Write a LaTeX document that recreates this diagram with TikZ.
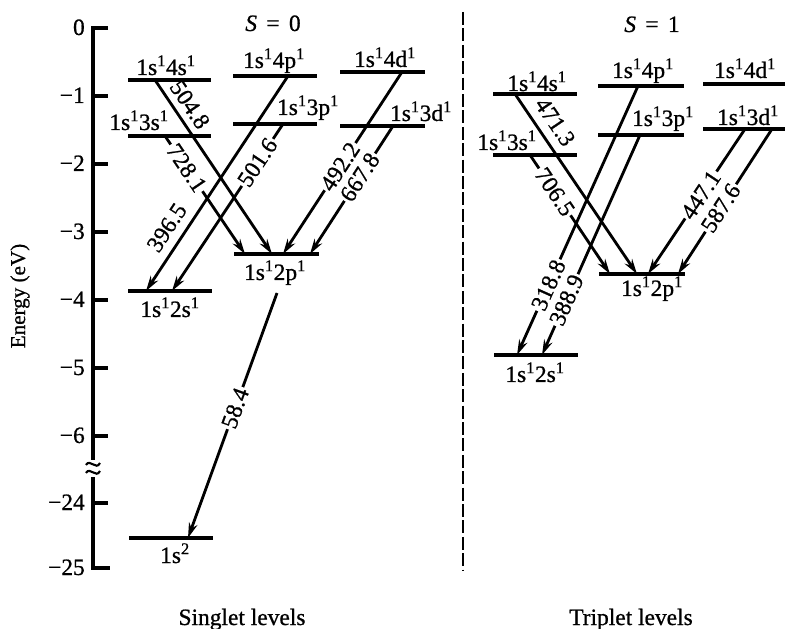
\documentclass[tikz,border=0pt]{standalone}
\usepackage{fontspec}
\setmainfont{Liberation Serif}[FakeBold=0.8]
\usetikzlibrary{arrows.meta}
\begin{document}
\begin{tikzpicture}[x=0.03cm,y=-0.03cm,
  txt/.style={font=\fontsize{20}{24}\selectfont, inner sep=0pt},
  lvlab/.style={txt, anchor=base},
  level/.style={line width=3pt},
  axisline/.style={line width=2.6pt},
  tickline/.style={line width=2.6pt},
  ticklab/.style={txt, anchor=base east},
  arr/.style={line width=2.4pt, -{Stealth[length=13pt,width=7.5pt]}},
  inl/.style={txt, sloped, fill=white, inner sep=1.5pt},
  side/.style={txt, sloped, inner sep=1pt},
  divider/.style={line width=1.7pt, dash pattern=on 11pt off 3pt}
]
\useasboundingbox (0,0) rectangle (785,629);

% ---------- axis ----------
\draw[axisline] (108,28) coordinate (axtop) -- (93,28) -- (93,460) coordinate (axbrk1);
\draw[axisline] (93,477) coordinate (axbrk2) -- (93,568) -- (110,568) coordinate (axbot);
\draw[line width=1.8pt] (86,465) .. controls (90,458) and (96,471) .. (100,463);
\draw[line width=1.8pt] (86,473) .. controls (90,466) and (96,479) .. (100,471);
\foreach \yy/\lab/\nm in {28/0/t0, 96/−1/t1, 164/−2/t2, 232/−3/t3, 300/−4/t4, 368/−5/t5, 436/−6/t6, 503/−24/t24, 568/−25/t25}{
  \draw[tickline] (93,\yy) -- (108,\yy);
  \node[ticklab] (\nm) at (85,\yy+7) {\lab};
}
\node[txt, rotate=90, font=\fontsize{18}{22}\selectfont] (elab) at (20,296) {Energy (eV)};

% ---------- divider ----------
\draw[divider] (463,12) coordinate (dtop) -- (463,570) coordinate (dbot);

% ---------- titles ----------
\node[lvlab] (S0) at (273,31) {\textit{S}\hspace{0.4em}=\hspace{0.4em}0};
\node[lvlab] (S1) at (652,32) {\textit{S}\hspace{0.4em}=\hspace{0.4em}1};
\node[lvlab] (sing) at (242,625) {Singlet levels};
\node[lvlab] (trip) at (631,625) {Triplet levels};

% ---------- singlet levels ----------
\draw[level] (128,80) -- (211,80);
\draw[level] (128,136) -- (211,136);
\draw[level] (128,291) -- (212,291);
\draw[level] (233,76) -- (317,76);
\draw[level] (233,124) -- (317,124);
\draw[level] (234,254) -- (319,254);
\draw[level] (340,72) -- (425,72);
\draw[level] (340,126) -- (425,126);
\draw[level] (129,538) -- (213,538);

\node[lvlab] (Ls4s) at (166,75) {1s\textsuperscript{1}4s\textsuperscript{1}};
\node[lvlab] (Ls3s) at (139,130) {1s\textsuperscript{1}3s\textsuperscript{1}};
\node[lvlab] (Ls2s) at (170,317) {1s\textsuperscript{1}2s\textsuperscript{1}};
\node[lvlab] (Ls4p) at (274,68) {1s\textsuperscript{1}4p\textsuperscript{1}};
\node[lvlab] (Ls3p) at (308,115) {1s\textsuperscript{1}3p\textsuperscript{1}};
\node[lvlab] (Ls2p) at (275,280) {1s\textsuperscript{1}2p\textsuperscript{1}};
\node[lvlab] (Ls4d) at (385,67) {1s\textsuperscript{1}4d\textsuperscript{1}};
\node[lvlab] (Ls3d) at (421,121) {1s\textsuperscript{1}3d\textsuperscript{1}};
\node[lvlab] (Lg) at (175,563) {1s\textsuperscript{2}};

% ---------- triplet levels ----------
\draw[level] (493,94) -- (577,94);
\draw[level] (493,155) -- (577,155);
\draw[level] (598,86) -- (684,86);
\draw[level] (598,135) -- (684,135);
\draw[level] (703,84) -- (785,84);
\draw[level] (703,129) -- (785,129);
\draw[level] (599,274) -- (685,274);
\draw[level] (494,355) -- (578,355);

\node[lvlab] (Lt4s) at (537,91) {1s\textsuperscript{1}4s\textsuperscript{1}};
\node[lvlab] (Lt3s) at (507,150) {1s\textsuperscript{1}3s\textsuperscript{1}};
\node[lvlab] (Lt4p) at (643,78) {1s\textsuperscript{1}4p\textsuperscript{1}};
\node[lvlab] (Lt3p) at (663,126) {1s\textsuperscript{1}3p\textsuperscript{1}};
\node[lvlab] (Lt4d) at (745,78) {1s\textsuperscript{1}4d\textsuperscript{1}};
\node[lvlab] (Lt3d) at (748,125) {1s\textsuperscript{1}3d\textsuperscript{1}};
\node[lvlab] (Lt2p) at (652,296) {1s\textsuperscript{1}2p\textsuperscript{1}};
\node[lvlab] (Lt2s) at (535,382) {1s\textsuperscript{1}2s\textsuperscript{1}};

% ---------- singlet transitions ----------
\coordinate (a1) at (155,80);  \coordinate (b1) at (272,254);
\coordinate (a2) at (165,136); \coordinate (b2) at (245,254);
\coordinate (a3) at (288,76);  \coordinate (b3) at (146,291);
\coordinate (a4) at (283,124); \coordinate (b4) at (172,291);
\coordinate (a5) at (402,72);  \coordinate (b5) at (283,254);
\coordinate (a6) at (393,126); \coordinate (b6) at (310,254);
\coordinate (a7) at (277,293); \coordinate (b7) at (188,538);

\draw[arr] (a1) -- node[side, pos=0.19, above=4pt] (w1) {504.8} (b1);
\draw[arr] (a2) -- node[inl, pos=0.27] (w2) {728.1} (b2);
\draw[arr] (a3) -- node[side, pos=0.75, above=6pt] (w3) {396.5} (b3);
\draw[arr] (a4) -- node[inl, pos=0.23] (w4) {501.6} (b4);
\draw[arr] (a5) -- node[inl, pos=0.52] (w5) {492.2} (b5);
\draw[arr] (a6) -- node[inl, pos=0.40] (w6) {667.8} (b6);
\draw[arr] (a7) -- node[inl, pos=0.47] (w7) {58.4} (b7);

% ---------- triplet transitions ----------
\coordinate (c1) at (515,94);  \coordinate (d1) at (637,274);
\coordinate (c2) at (530,155); \coordinate (d2) at (610,274);
\coordinate (c3) at (638,86);  \coordinate (d3) at (517,355);
\coordinate (c4) at (640,135); \coordinate (d4) at (542,355);
\coordinate (c5) at (745,129); \coordinate (d5) at (648,274);
\coordinate (c6) at (772,129); \coordinate (d6) at (678,274);

\draw[arr] (c1) -- node[side, pos=0.21, above=6pt] (v1) {471.3} (d1);
\draw[arr] (c2) -- node[inl, pos=0.31] (v2) {706.5} (d2);
\draw[arr] (c3) -- node[inl, pos=0.74] (v3) {318.8} (d3);
\draw[arr] (c4) -- node[inl, pos=0.75] (v4) {388.9} (d4);
\draw[arr] (c5) -- node[inl, pos=0.455] (v5) {447.1} (d5);
\draw[arr] (c6) -- node[inl, pos=0.545] (v6) {587.6} (d6);
\end{tikzpicture}
\end{document}
